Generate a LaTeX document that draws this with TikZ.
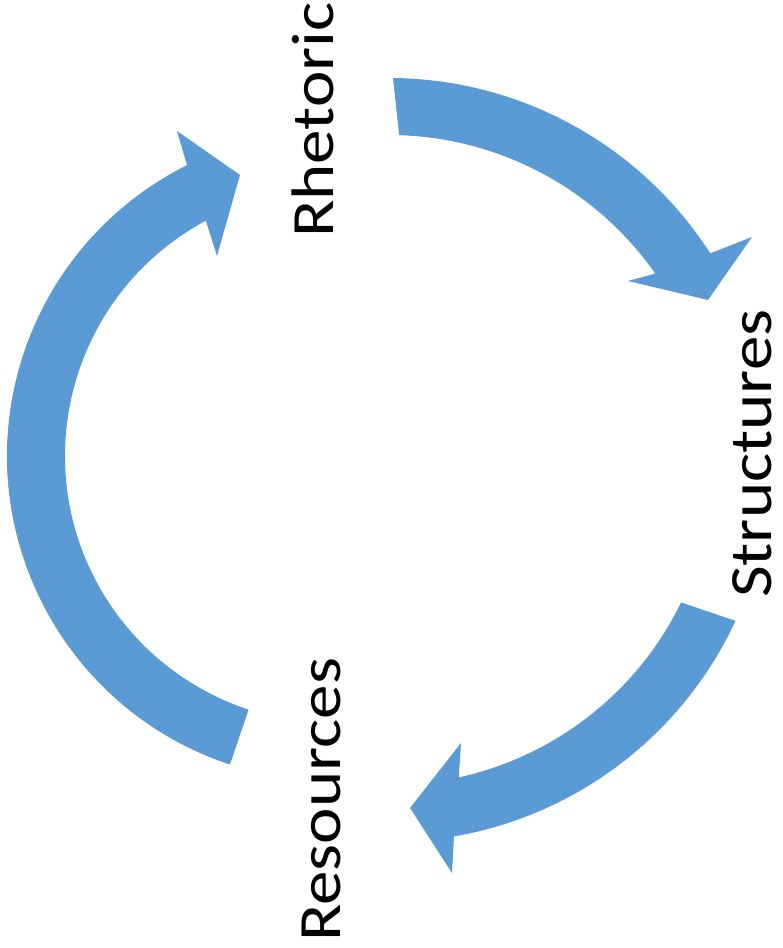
\documentclass[tikz,border=0pt]{standalone}
\usepackage{fontspec}
\setmainfont{Carlito}
\usepackage{graphicx}
\definecolor{cycleblue}{HTML}{5B9BD5}
\begin{document}
\begin{tikzpicture}[x=1pt,y=1pt,
  blockarrow/.style={fill=cycleblue, draw=none},
  cyclelabel/.style={rotate=90, anchor=base west, inner sep=0pt,
    font=\fontsize{60}{72}\selectfont}]
\useasboundingbox (0,0) rectangle (783,948);
% centres of the arcs
\coordinate (c1) at (389,488);
\coordinate (c2) at (332,492);

% Rhetoric -> Structures
\fill[blockarrow] ([shift={(89.4:382)}]c1)
  arc[start angle=89.4, end angle=32.75, radius=382]
  -- (752,711) -- (708,648) -- (628,667)
  -- ([shift={(35:325)}]c1)
  arc[start angle=35, end angle=88.2, radius=325] -- cycle;

% Structures -> Resources
\fill[blockarrow] ([shift={(-24.9:382)}]c1)
  arc[start angle=-24.9, end angle=-80.2, radius=382]
  -- (452,75) -- (410,140) -- (461,205)
  -- ([shift={(-77.6:325)}]c1)
  arc[start angle=-77.6, end angle=-26.0, radius=325] -- cycle;

% Resources -> Rhetoric
\fill[blockarrow] ([shift={(251.7:325)}]c2)
  arc[start angle=251.7, end angle=116.5, radius=325]
  -- (177,817) -- (240,773) -- (217,692)
  -- ([shift={(118.2:267)}]c2)
  arc[start angle=118.2, end angle=251.8, radius=267] -- cycle;

% labels
\node[cyclelabel] (rhet) at (333,710) {\scalebox{1.15}[1]{Rhetoric}};
\node[cyclelabel] (struc) at (771,350) {\scalebox{1.15}[1]{Structures}};
\node[cyclelabel] (res) at (340,6) {\scalebox{1.15}[1]{Resources}};
\end{tikzpicture}
\end{document}
